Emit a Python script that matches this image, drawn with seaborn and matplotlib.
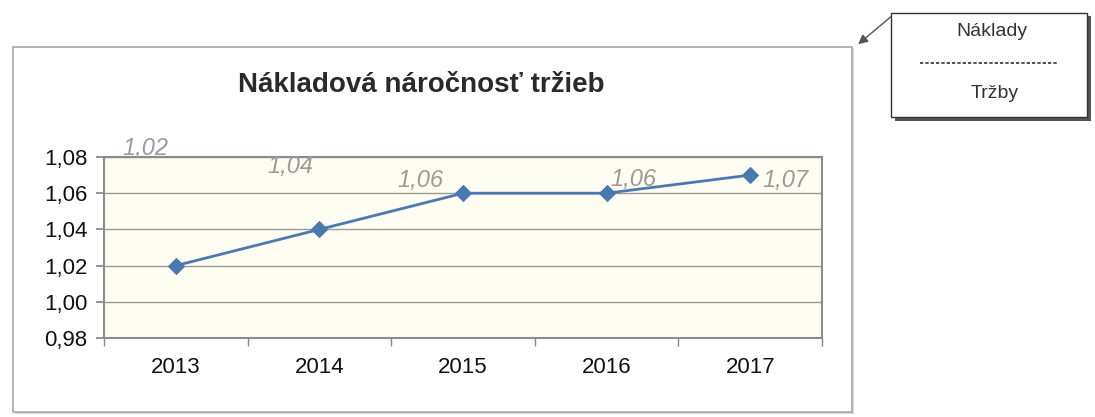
import matplotlib
matplotlib.use("Agg")
import matplotlib.pyplot as plt
import matplotlib.patches as mpatches
import seaborn as sns
import pandas as pd

# data
years = ["2013", "2014", "2015", "2016", "2017"]
ratio = [1.02, 1.04, 1.06, 1.06, 1.07]
labels = ["1,02", "1,04", "1,06", "1,06", "1,07"]
y_ticks = [0.98, 1.00, 1.02, 1.04, 1.06, 1.08]
y_tick_labels = ["0,98", "1,00", "1,02", "1,04", "1,06", "1,08"]
# odd label offsets (points) as they sit in the original
label_offsets = [(-22, 84), (-21, 45), (-31, 9), (19, 10), (25, -4)]

df = pd.DataFrame({"rok": years, "ratio": ratio})

sns.set_theme(style="white")
plt.rcParams["font.family"] = ["Liberation Sans", "DejaVu Sans"]

fig = plt.figure(figsize=(10.95, 4.17), dpi=100)
ax = fig.add_axes([0.095, 0.1894, 0.6557, 0.4341])
ax.set_zorder(2)

# outer chart frame with a faint shadow
fig.add_artist(mpatches.Rectangle((15 / 1095, 3 / 417), 839 / 1095, 366 / 417,
                                  transform=fig.transFigure, fc="#d8d8d8", ec="none", zorder=0))
fig.add_artist(mpatches.Rectangle((13 / 1095, 5 / 417), 839 / 1095, 365 / 417,
                                  transform=fig.transFigure, fc="white", ec="#a8a8a8", lw=1.2, zorder=0.1))

ax.set_facecolor("#fdfdf1")
sns.lineplot(data=df, x="rok", y="ratio", ax=ax, color="#4a78b0", lw=2,
             marker="D", markersize=8, markeredgecolor="#4a78b0", zorder=3)

for i, (v, lab) in enumerate(zip(ratio, labels)):
    ax.annotate(lab, (i, v), xytext=label_offsets[i], textcoords="offset points",
                ha="center", va="center", fontsize=17, style="italic", color="#9a9a9a",
                annotation_clip=False)

ax.set_ylim(0.98, 1.08)
ax.set_xlim(-0.5, 4.5)
ax.set_yticks(y_ticks)
ax.set_yticklabels(y_tick_labels, fontsize=16, color="#111111")
ax.set_xticks(range(len(years)))
ax.set_xticklabels(years, fontsize=16, color="#111111")
ax.set_xticks([i - 0.5 for i in range(len(years) + 1)], minor=True)
ax.tick_params(axis="x", which="major", length=0, pad=14)
ax.tick_params(axis="x", which="minor", length=6, color="#888888", direction="out", bottom=True)
ax.tick_params(axis="y", length=6, color="#888888", direction="out", left=True, pad=6)
ax.grid(axis="y", color="#9a9a9a", lw=1)
for s in ax.spines.values():
    s.set_color("#8c8c8c")
    s.set_linewidth(1.5)
ax.set_xlabel("")
ax.set_ylabel("")

fig.text(421 / 1095, 1 - 85 / 417, "Nákladová náročnosť tržieb", ha="center", va="center",
         fontsize=20, fontweight="bold", color="#2a2a2a", zorder=3)

# formula box at top right
fig.add_artist(mpatches.Rectangle((895 / 1095, 1 - 121 / 417), 196 / 1095, 105 / 417,
                                  transform=fig.transFigure, fc="#555555", ec="none", zorder=3))
fig.add_artist(mpatches.Rectangle((891 / 1095, 1 - 117 / 417), 196 / 1095, 104 / 417,
                                  transform=fig.transFigure, fc="white", ec="#333333", lw=1, zorder=3.1))
fig.text(992 / 1095, 1 - 32 / 417, "Náklady", ha="center", va="center", fontsize=14,
         color="#333333", zorder=4)
fig.text(995 / 1095, 1 - 94 / 417, "Tržby", ha="center", va="center", fontsize=14,
         color="#333333", zorder=4)
fig.add_artist(plt.Line2D([920 / 1095, 1058 / 1095], [1 - 63 / 417, 1 - 63 / 417],
                          transform=fig.transFigure, color="#333333", lw=1.2,
                          dashes=(2, 1.2), zorder=4))
fig.add_artist(mpatches.FancyArrowPatch((893 / 1095, 1 - 15 / 417), (856 / 1095, 1 - 46 / 417),
                                        transform=fig.transFigure, arrowstyle="-|>",
                                        mutation_scale=14, color="#555555", lw=1, zorder=4))

fig.savefig("out.png", dpi=100)
